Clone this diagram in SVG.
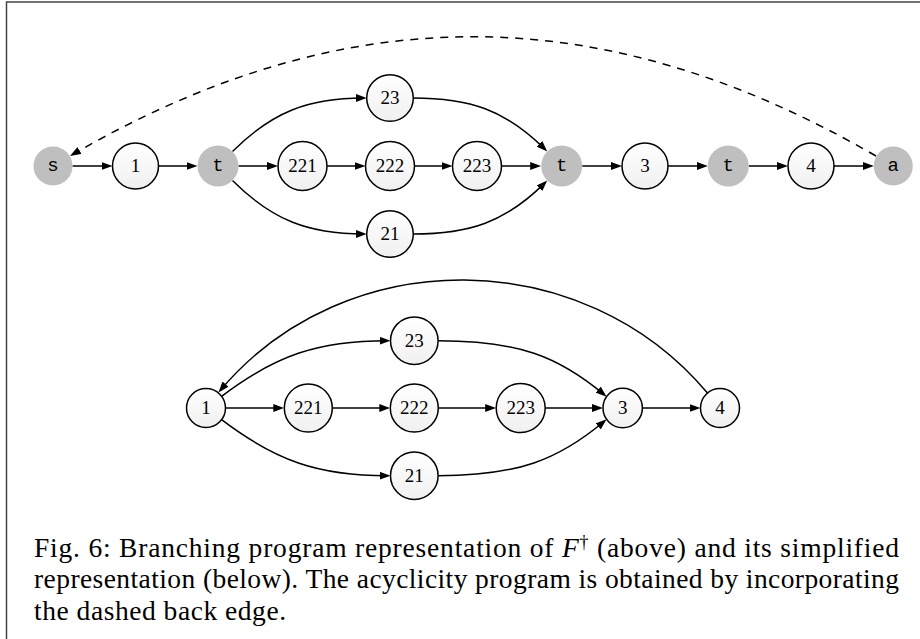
<svg xmlns="http://www.w3.org/2000/svg" width="920" height="639" viewBox="0 0 920 639">
<style>
.w{fill:url(#g);stroke:#000;stroke-width:1.5}
.k{fill:#bfbfbf;stroke:none}
.n{font-family:"Liberation Serif","DejaVu Serif",serif;font-size:19px;text-anchor:middle;fill:#000}
.m{font-family:"Liberation Mono","DejaVu Sans Mono",monospace;font-size:19px;text-anchor:middle;fill:#000}
.e{fill:none;stroke:#000;stroke-width:1.5;marker-end:url(#ah)}
.d{stroke-dasharray:8 7}
.cap{font-family:"Liberation Serif","Times New Roman",serif;font-size:27.5px;fill:#000}
</style>
<defs>
<linearGradient id="g" x1="0" y1="0" x2="0" y2="1"><stop offset="0" stop-color="#ffffff"/><stop offset="1" stop-color="#f0f0f0"/></linearGradient>
<marker id="ah" markerUnits="userSpaceOnUse" viewBox="0 0 11 8" refX="8" refY="4" markerWidth="11" markerHeight="8" orient="auto"><path d="M0,0 L11,4 L0,8 Z" fill="#000"/></marker>
</defs>
<rect x="0" y="0" width="920" height="639" fill="#fff"/>
<path d="M6.5,639 V2 H920" fill="none" stroke="#444" stroke-width="1.5"/>

<g id="connectors">
<path class="e" d="M72.5,166 H109.5"/>
<path class="e" d="M158.5,166 H194.5"/>
<path class="e" d="M238.5,166 H275"/>
<path class="e" d="M327,166 H362.5"/>
<path class="e" d="M414.5,166 H449.5"/>
<path class="e" d="M501.5,166 H538.2"/>
<path class="e" d="M582.2,166 H619"/>
<path class="e" d="M668,166 H704.8"/>
<path class="e" d="M748.8,166 H785"/>
<path class="e" d="M834,166 H870.8"/>
<path class="e" d="M232.5,151.5 C272,112 308,98 363.7,98"/>
<path class="e" d="M232.5,180.5 C272,220 308,234 363.7,234"/>
<path class="e" d="M413.3,98 C469,98 505.4,109.7 545.1,149.4"/>
<path class="e" d="M413.3,234 C469,234 505.4,222.3 545.1,182.6"/>
<path class="e d" d="M876,156 C603,-2 345.6,-3.5 72.6,154.5"/>
<path class="e" d="M225.5,408 H281.3"/>
<path class="e" d="M332.3,408 H387.3"/>
<path class="e" d="M438.3,408 H493.2"/>
<path class="e" d="M545.2,408 H600"/>
<path class="e" d="M642.4,408 H697.5"/>
<path class="e" d="M221.6,396.3 C276,355 318.5,340.7 387.5,340.7"/>
<path class="e" d="M221.6,419.7 C276,461 318.5,475.7 387.5,475.7"/>
<path class="e" d="M438.1,340.7 C518,340.7 558.3,356.2 604.3,394.8"/>
<path class="e" d="M438.1,475.7 C518,475.7 558.3,459.8 604.3,421.2"/>
<path class="e" d="M707.5,393.1 C582.7,244 345.9,241.7 220.4,390.2"/>
</g>

<g id="top-s"><circle class="k" cx="53" cy="166" r="19.5"/><text class="m" x="53" y="171">s</text></g>
<g id="top-1"><circle class="w" cx="135.5" cy="166" r="23"/><text class="n" x="135.5" y="172.4">1</text></g>
<g id="top-t1"><circle class="k" cx="218" cy="166" r="20.5"/><text class="m" x="218" y="171">t</text></g>
<g id="top-23"><circle class="w" cx="390" cy="98" r="23.3"/><text class="n" x="390" y="104.4">23</text></g>
<g id="top-221"><circle class="w" cx="302.5" cy="166" r="24.5"/><text class="n" x="302.5" y="172.4">221</text></g>
<g id="top-222"><circle class="w" cx="390" cy="166" r="24.5"/><text class="n" x="390" y="172.4">222</text></g>
<g id="top-223"><circle class="w" cx="477" cy="166" r="24.5"/><text class="n" x="477" y="172.4">223</text></g>
<g id="top-21"><circle class="w" cx="390" cy="234" r="23.3"/><text class="n" x="390" y="240.4">21</text></g>
<g id="top-t2"><circle class="k" cx="561.7" cy="166" r="20.5"/><text class="m" x="561.7" y="171">t</text></g>
<g id="top-3"><circle class="w" cx="645" cy="166" r="23"/><text class="n" x="645" y="172.4">3</text></g>
<g id="top-t3"><circle class="k" cx="728.3" cy="166" r="20.5"/><text class="m" x="728.3" y="171">t</text></g>
<g id="top-4"><circle class="w" cx="811" cy="166" r="23"/><text class="n" x="811" y="172.4">4</text></g>
<g id="top-a"><circle class="k" cx="893.3" cy="166" r="19.5"/><text class="m" x="893.3" y="171">a</text></g>

<g id="bot-1"><circle class="w" cx="206" cy="408" r="19.5"/><text class="n" x="206" y="414.4">1</text></g>
<g id="bot-23"><circle class="w" cx="414.3" cy="340.7" r="23.8"/><text class="n" x="414.3" y="347.1">23</text></g>
<g id="bot-221"><circle class="w" cx="308.3" cy="408" r="24"/><text class="n" x="308.3" y="414.4">221</text></g>
<g id="bot-222"><circle class="w" cx="414.3" cy="408" r="24"/><text class="n" x="414.3" y="414.4">222</text></g>
<g id="bot-223"><circle class="w" cx="520.7" cy="408" r="24.5"/><text class="n" x="520.7" y="414.4">223</text></g>
<g id="bot-21"><circle class="w" cx="414.3" cy="475.7" r="23.8"/><text class="n" x="414.3" y="482.1">21</text></g>
<g id="bot-3"><circle class="w" cx="622.7" cy="408" r="19.7"/><text class="n" x="622.7" y="414.4">3</text></g>
<g id="bot-4"><circle class="w" cx="720" cy="408" r="19.5"/><text class="n" x="720" y="414.4">4</text></g>

<g id="caption">
<text class="cap" x="34" y="557" textLength="865" lengthAdjust="spacing">Fig. 6: Branching program representation of <tspan font-style="italic">F</tspan><tspan dy="-9" font-size="18">†</tspan><tspan dy="9"> (above) and its simplified</tspan></text>
<text class="cap" x="34" y="588.3" textLength="865" lengthAdjust="spacing">representation (below). The acyclicity program is obtained by incorporating</text>
<text class="cap" x="34" y="619.6" textLength="252" lengthAdjust="spacing">the dashed back edge.</text>
</g>
</svg>
